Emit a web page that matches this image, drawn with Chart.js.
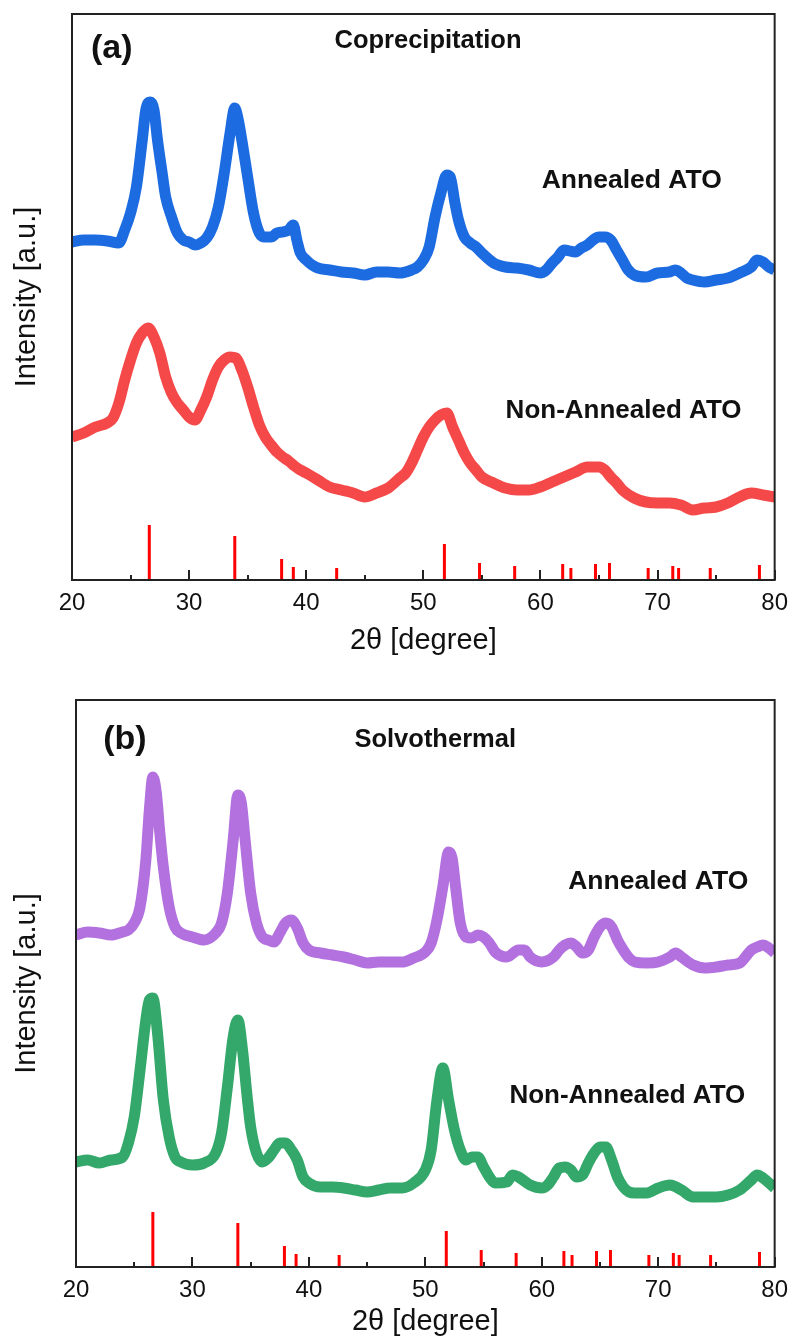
<!DOCTYPE html>
<html>
<head>
<meta charset="utf-8">
<title>XRD patterns of ATO</title>
<script src="https://cdn.jsdelivr.net/npm/chart.js@4.4.0/dist/chart.umd.min.js"></script>
<style>
  html, body { margin: 0; padding: 0; background: #fff; }
  body { width: 797px; height: 1341px; position: relative; overflow: hidden; }
  canvas { position: absolute; left: 0; }
  #chartA { top: 0; }
  #chartB { top: 660px; }
</style>
</head>
<body>
<canvas id="chartA" width="797" height="660"></canvas>
<canvas id="chartB" width="797" height="681"></canvas>
<script>
// 2theta axis ticks
const xTicks = [20, 30, 40, 50, 60, 70, 80];
const xMinorTicks = [25, 35, 45, 55, 65, 75];

// SnO2 reference pattern (stick positions and relative heights, a.u.)
const refTheta = [26.6, 33.9, 37.9, 38.9, 42.6, 51.8, 54.8, 57.8, 61.9, 62.6, 64.7, 65.9, 69.2, 71.3, 71.8, 74.5, 78.7];
const refHeight = [55, 44, 21, 13, 12, 36, 17, 14, 16, 12, 16, 17, 12, 14, 12, 12, 15];

// (a) Coprecipitation - annealed
const copAnnTheta = [20, 21, 22, 23, 24, 24.5, 25, 25.5, 26, 26.3, 26.7, 27, 27.3, 27.7, 28, 28.5, 29, 29.5, 30, 30.5, 31, 31.5, 32, 32.5, 33, 33.5, 33.9, 34.2, 34.5, 35, 35.5, 36, 36.5, 37, 37.5, 38, 38.5, 38.9, 39.2, 39.5, 40, 40.5, 41, 42, 43, 44, 45, 46, 47, 48, 49, 49.5, 50, 50.5, 51, 51.5, 52, 52.3, 52.7, 53, 53.5, 54, 54.5, 55, 56, 57, 58, 59, 60, 60.5, 61, 61.5, 62, 63, 63.5, 64, 64.5, 65, 65.5, 66, 66.5, 67, 67.5, 68, 69, 70, 71, 71.5, 72, 72.5, 73, 74, 75, 76, 77, 78, 78.5, 79, 79.5, 80];
const copAnnInt = [338, 340, 340, 339, 337, 350, 367, 393, 440, 470, 478, 470, 440, 407, 383, 363, 347, 340, 338, 335, 337, 342, 353, 373, 407, 447, 472, 460, 440, 403, 367, 347, 343, 343, 347, 348, 350, 355, 340, 327, 320, 315, 312, 310, 308, 307, 305, 308, 308, 307, 310, 313, 320, 333, 363, 387, 405, 403, 377, 360, 343, 337, 333, 327, 317, 313, 312, 310, 307, 310, 317, 323, 330, 328, 332, 335, 340, 343, 343, 340, 330, 320, 310, 305, 303, 307, 308, 310, 307, 302, 300, 298, 300, 302, 307, 313, 320, 318, 313, 310];

// (a) Coprecipitation - non-annealed
const copNonTheta = [20, 21, 22, 23, 23.5, 24, 24.5, 25, 25.5, 26, 26.5, 27, 27.5, 28, 28.5, 29, 29.5, 30, 30.5, 31, 31.5, 32, 32.5, 33, 33.5, 34, 34.5, 35, 35.5, 36, 36.5, 37, 37.5, 38, 38.5, 39, 39.5, 40, 41, 42, 43, 44, 45, 46, 47, 48, 48.5, 49, 49.5, 50, 50.5, 51, 51.5, 52, 52.5, 53, 53.5, 54, 54.5, 55, 56, 57, 58, 59, 60, 61, 62, 63, 64, 64.5, 65, 65.5, 66, 66.5, 67, 68, 69, 70, 71, 72, 73, 74, 75, 76, 77, 78, 79, 80];
const copNonInt = [143, 147, 153, 157, 162, 177, 200, 220, 237, 247, 252, 243, 227, 203, 187, 177, 170, 163, 160, 170, 183, 200, 213, 220, 223, 222, 210, 193, 173, 155, 143, 135, 128, 123, 119, 114, 110, 107, 100, 93, 90, 87, 83, 87, 92, 102, 107, 117, 130, 143, 153, 160, 165, 167, 153, 140, 127, 117, 110, 103, 97, 92, 90, 90, 93, 98, 103, 108, 113, 113, 113, 110, 103, 97, 90, 82, 78, 77, 77, 75, 70, 72, 73, 77, 83, 87, 85, 83];

// (b) Solvothermal - annealed
const solAnnTheta = [20, 21, 22, 23, 24, 24.5, 25, 25.5, 26, 26.3, 26.6, 26.9, 27.2, 27.5, 28, 28.5, 29, 30, 31, 32, 32.5, 33, 33.5, 33.9, 34.2, 34.5, 35, 35.5, 36, 36.5, 37, 37.5, 38, 38.5, 39, 39.5, 40, 41, 42, 43, 44, 45, 46, 48, 49, 50, 50.5, 51, 51.5, 52, 52.3, 52.6, 53, 53.5, 54, 54.5, 55, 55.5, 56, 57, 58, 58.5, 59, 60, 61, 61.5, 62, 62.5, 63, 63.5, 64, 64.5, 65, 65.5, 66, 66.5, 67, 67.5, 68, 69, 70, 71, 71.5, 72, 73, 74, 75, 76, 77, 78, 78.5, 79, 79.5, 80];
const solAnnInt = [332, 335, 334, 332, 335, 337, 344, 360, 407, 457, 490, 474, 434, 400, 360, 340, 334, 330, 327, 334, 344, 374, 427, 472, 464, 430, 374, 344, 330, 327, 325, 334, 344, 347, 339, 324, 317, 314, 312, 310, 307, 304, 305, 305, 309, 315, 324, 347, 380, 415, 409, 380, 344, 330, 329, 332, 330, 324, 315, 310, 317, 317, 310, 305, 310, 317, 322, 324, 320, 314, 317, 330, 340, 344, 340, 327, 317, 309, 305, 304, 305, 310, 314, 310, 302, 299, 300, 302, 304, 317, 320, 322, 319, 314];

// (b) Solvothermal - non-annealed
const solNonTheta = [20, 21, 22, 23, 24, 24.5, 25, 25.5, 26, 26.3, 26.6, 27, 27.5, 28, 28.5, 29, 30, 31, 32, 32.5, 33, 33.5, 33.9, 34.3, 34.7, 35, 35.5, 36, 36.5, 37, 37.5, 38, 38.5, 39, 39.5, 40, 41, 42, 43, 44, 45, 46, 47, 48, 49, 50, 50.5, 51, 51.5, 52, 52.5, 53, 53.5, 54, 54.5, 55, 55.5, 56, 57, 57.5, 58, 59, 60, 60.5, 61, 61.5, 62, 62.5, 63, 63.5, 64, 64.5, 65, 65.5, 66, 66.5, 67, 67.5, 68, 69, 70, 71, 72, 73, 74, 75, 76, 77, 78, 78.5, 79, 80];
const solNonInt = [105, 107, 104, 107, 110, 124, 150, 197, 247, 267, 269, 234, 167, 130, 110, 105, 102, 104, 114, 134, 180, 230, 247, 217, 170, 140, 114, 105, 109, 117, 124, 124, 117, 107, 90, 84, 80, 80, 79, 77, 75, 77, 79, 79, 84, 97, 117, 167, 199, 167, 137, 117, 107, 110, 110, 100, 90, 84, 85, 92, 90, 82, 79, 82, 90, 99, 100, 97, 90, 92, 104, 114, 120, 120, 107, 90, 80, 75, 74, 74, 79, 82, 77, 70, 70, 70, 72, 77, 87, 92, 89, 79];

const FONT = "'Liberation Sans', Arial, sans-serif";

const pointsOf = (xs, ys) => xs.map((x, i) => ({ x, y: ys[i] }));

// each stick is a little vertical segment, separated by gaps
const sticksOf = (xs, hs) => {
  const pts = [];
  xs.forEach((x, i) => pts.push({ x, y: 0 }, { x, y: hs[i] }, { x, y: null }));
  return pts;
};

const traceDataset = (label, xs, ys, color) => ({
  label,
  data: pointsOf(xs, ys),
  borderColor: color,
  borderWidth: 11,
  borderJoinStyle: 'round',
  pointRadius: 0,
  cubicInterpolationMode: 'monotone',
  fill: false,
});

const stickDataset = () => ({
  label: 'SnO2 reference',
  data: sticksOf(refTheta, refHeight),
  borderColor: '#ff0000',
  borderWidth: 3,
  pointRadius: 0,
  spanGaps: false,
  fill: false,
});

// frame, inward ticks and text labels
const framePlugin = (labels) => ({
  id: 'frame',
  afterDraw(chart) {
    const { ctx, chartArea: a, scales: { x, y } } = chart;
    ctx.save();
    ctx.strokeStyle = '#222';
    ctx.lineWidth = 2;
    ctx.strokeRect(a.left, a.top, a.right - a.left, a.bottom - a.top);
    const tick = (v, len) => {
      const px = Math.round(x.getPixelForValue(v));
      ctx.beginPath();
      ctx.moveTo(px, a.bottom);
      ctx.lineTo(px, a.bottom - len);
      ctx.stroke();
    };
    xTicks.forEach(v => tick(v, 10));
    xMinorTicks.forEach(v => tick(v, 5));
    ctx.fillStyle = '#111';
    ctx.textAlign = 'center';
    ctx.textBaseline = 'middle';
    labels.forEach(l => {
      ctx.font = l.font;
      ctx.fillText(l.text, x.getPixelForValue(l.x), y.getPixelForValue(l.y));
    });
    ctx.restore();
  }
});

const makePanel = (id, datasets, opts) => new Chart(document.getElementById(id), {
  type: 'line',
  data: { datasets },
  options: {
    responsive: false,
    animation: false,
    events: [],
    layout: { padding: { top: opts.top, right: opts.right, left: 0, bottom: 0 } },
    plugins: { legend: { display: false }, tooltip: { enabled: false } },
    scales: {
      x: {
        type: 'linear',
        min: 20,
        max: 80,
        afterBuildTicks: s => { s.ticks = xTicks.map(v => ({ value: v })); },
        afterFit: s => { s.height = opts.xHeight; },
        ticks: { color: '#111', padding: 9, font: { family: FONT, size: 24 } },
        grid: { display: false, drawTicks: false },
        border: { display: false },
        title: {
          display: true,
          text: '2θ [degree]',
          color: '#111',
          font: { family: FONT, size: 29 },
          padding: { top: 0, bottom: 2 },
        },
      },
      y: {
        min: 0,
        max: opts.yMax,
        afterFit: s => { s.width = opts.yWidth; },
        ticks: { display: false },
        grid: { display: false, drawTicks: false },
        border: { display: false },
        title: {
          display: true,
          text: 'Intensity [a.u.]',
          color: '#111',
          font: { family: FONT, size: 29 },
          padding: { top: 10, bottom: 0 },
        },
      },
    },
  },
  plugins: [framePlugin(opts.labels)],
});

const bold = size => `bold ${size}px ${FONT}`;

makePanel('chartA', [
  stickDataset(),
  traceDataset('Non-Annealed ATO', copNonTheta, copNonInt, '#f54848'),
  traceDataset('Annealed ATO', copAnnTheta, copAnnInt, '#1c6be0'),
], {
  top: 14, right: 20, xHeight: 80, yWidth: 72, yMax: 566,
  labels: [
    { text: '(a)', x: 23.4, y: 531, font: bold(34) },
    { text: 'Coprecipitation', x: 50.4, y: 539, font: bold(25.5) },
    { text: 'Annealed ATO', x: 67.8, y: 399, font: bold(26.5) },
    { text: 'Non-Annealed ATO', x: 67.1, y: 169, font: bold(26) },
  ],
});

makePanel('chartB', [
  stickDataset(),
  traceDataset('Non-Annealed ATO', solNonTheta, solNonInt, '#33a86a'),
  traceDataset('Annealed ATO', solAnnTheta, solAnnInt, '#b271de'),
], {
  top: 40, right: 18, xHeight: 74, yWidth: 76, yMax: 567,
  labels: [
    { text: '(b)', x: 24.2, y: 527, font: bold(34) },
    { text: 'Solvothermal', x: 50.85, y: 527, font: bold(25.5) },
    { text: 'Annealed ATO', x: 70.0, y: 385, font: bold(26.5) },
    { text: 'Non-Annealed ATO', x: 67.35, y: 171, font: bold(26) },
  ],
});
</script>
</body>
</html>
